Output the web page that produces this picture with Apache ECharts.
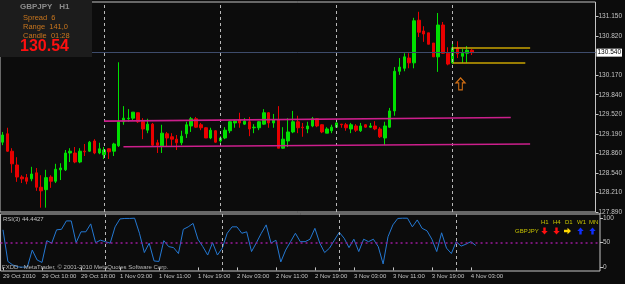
<!DOCTYPE html>
<html>
<head>
<meta charset="utf-8">
<script src="https://cdn.jsdelivr.net/npm/echarts@6/dist/echarts.min.js"></script>
<style>
  html, body { margin: 0; padding: 0; background: #0c0c0c; }
  #chart { width: 625px; height: 284px; }
</style>
</head>
<body>
<div id="chart"></div>
<script>
'use strict';

// GBPJPY H1 bars, 29 Oct 2010 02:00 .. 4 Nov 2010 04:00
var opens = [129.05,129.19,128.90,128.67,128.47,128.46,128.44,128.54,128.30,128.26,
  128.47,128.40,128.59,128.59,128.87,128.87,128.72,128.90,128.90,129.07,
  128.87,128.84,128.94,128.90,128.99,129.39,129.44,129.45,129.54,129.39,
  129.25,129.35,129.04,128.99,129.19,129.14,129.10,129.04,129.19,129.32,
  129.44,129.34,129.29,129.12,129.24,129.07,129.12,129.24,129.37,129.42,
  129.35,129.39,129.29,129.29,129.35,129.54,129.37,129.42,128.95,129.07,
  129.22,129.39,129.30,129.27,129.32,129.44,129.34,129.20,129.24,129.30,
  129.35,129.34,129.27,129.32,129.24,129.34,129.30,129.32,129.27,129.12,
  129.30,129.57,130.23,130.28,130.45,130.37,131.08,130.90,130.87,130.70,
  130.47,131.00,130.53,130.37,130.62,130.48,130.53,130.58];
var closes = [129.17,128.90,128.69,128.47,128.44,128.40,128.52,128.30,128.24,128.46,
  128.40,128.60,128.62,128.87,128.90,128.72,128.90,128.89,129.05,128.87,
  128.94,128.92,128.89,129.02,129.39,129.45,129.45,129.55,129.39,129.27,
  129.35,129.00,129.00,129.20,129.12,129.10,129.04,129.15,129.34,129.44,
  129.30,129.29,129.12,129.25,129.05,129.12,129.25,129.39,129.40,129.37,
  129.40,129.27,129.30,129.39,129.54,129.37,129.42,128.95,129.10,129.22,
  129.39,129.29,129.29,129.32,129.44,129.32,129.22,129.27,129.30,129.37,
  129.34,129.29,129.34,129.25,129.32,129.30,129.32,129.27,129.14,129.32,
  129.57,130.23,130.30,130.47,130.37,131.07,130.88,130.85,130.68,130.47,
  131.00,130.53,130.35,130.62,130.52,130.53,130.58,130.54];
var lows = [129.00,128.89,128.54,128.39,128.37,128.35,128.40,128.24,127.96,127.96,
  128.29,128.37,128.42,128.57,128.72,128.70,128.70,128.82,128.89,128.85,
  128.85,128.77,128.77,128.82,128.97,129.34,129.39,129.42,129.37,129.10,
  129.20,128.99,128.87,128.87,128.97,128.99,128.92,129.00,129.12,129.22,
  129.29,129.25,129.12,129.10,129.04,129.04,129.10,129.20,129.29,129.29,
  129.34,129.15,129.20,129.25,129.34,129.29,129.29,128.95,128.94,128.97,
  129.20,129.20,129.14,129.20,129.30,129.30,129.20,129.20,129.20,129.29,
  129.29,129.24,129.20,129.22,129.22,129.29,129.29,129.25,129.12,129.00,
  129.29,129.49,130.17,130.23,130.28,130.28,130.80,130.72,130.68,130.47,
  130.22,130.52,130.33,130.35,130.45,130.37,130.37,130.50];
var highs = [129.22,129.29,128.95,128.80,128.50,128.52,128.64,128.62,128.50,128.59,
  128.50,128.69,128.70,128.92,128.95,128.97,128.95,129.02,129.07,129.10,
  129.04,128.97,128.95,129.04,130.38,129.65,129.60,129.55,129.54,129.45,
  129.44,129.37,129.09,129.34,129.22,129.20,129.17,129.24,129.39,129.47,
  129.47,129.37,129.30,129.29,129.25,129.15,129.30,129.40,129.42,129.54,
  129.45,129.47,129.35,129.40,129.60,129.55,129.52,129.65,129.30,129.45,
  129.57,129.49,129.37,129.39,129.47,129.45,129.35,129.30,129.34,129.39,
  129.35,129.37,129.37,129.35,129.37,129.35,129.37,129.40,129.30,129.39,
  129.62,130.30,130.45,130.53,130.53,131.12,131.22,130.98,130.87,130.70,
  131.20,131.05,130.63,130.72,130.73,130.60,130.65,130.60];
var rsi = [76,12,5,1,0.5,1,35,15,10,54,
  49,76,77,94,94,50,72,72,88,50,
  55,52,49,82,98,99,99,99.5,69,30,
  49,13,12,54,42,40,28,77,82,89,
  57,42,25,50,25,39,69,82,82,69,
  72,32,50,69,86,49,55,11,35,52,
  69,52,52,57,79,49,30,39,55,71,
  59,40,57,32,57,52,57,42,7,62,
  86,99,99.5,99.5,82,96,79,74,57,32,
  70,39,28,52,43,47,52,44.44];

var timeTicks = ['29 Oct 2010', '29 Oct 10:00', '29 Oct 18:00', '1 Nov 03:00', '1 Nov 11:00',
  '1 Nov 19:00', '2 Nov 03:00', '2 Nov 11:00', '2 Nov 19:00', '3 Nov 03:00',
  '3 Nov 11:00', '3 Nov 19:00', '4 Nov 03:00'];
var priceTicks = [127.89, 128.21, 128.54, 128.86, 129.19, 129.52, 129.84, 130.17, 130.82, 131.15];
var rsiTicks = [0, 50, 100];
var daySeparators = [21, 45, 69, 93];
var lastPrice = 130.54;
var upperTrend = [[21, 129.40], [105, 129.46]];
var lowerTrend = [[25, 128.975], [109, 129.02]];
var goldHigh = [[93, 130.62], [109, 130.62]];
var goldLow = [[93, 130.37], [108, 130.37]];
var signalArrow = [94, 130.02];

var slots = 123;
var cats = [];
for (var i = 0; i < slots; i++) cats.push(String(i));

var candles = opens.map(function (o, i) {
  return [o, closes[i], lows[i], highs[i]];
});

var FONT = 'Liberation Sans';
var axisGrey = '#c4c4c4';

function sepLines() {
  return daySeparators.map(function (i) {
    return { xAxis: i };
  });
}

function segment(pts, color, width) {
  return [
    { coord: pts[0], lineStyle: { color: color, width: width, type: 'solid' } },
    { coord: pts[1] }
  ];
}

function tickShown(idx) {
  return idx % 8 === 0 && idx / 8 < timeTicks.length;
}

// small legend arrows (MTF trend panel)
function arrow(cx, cy, dir, color) {
  var p;
  if (dir === 'down') {
    p = [[cx - 1.2, cy - 3.5], [cx + 1.2, cy - 3.5], [cx + 1.2, cy], [cx + 3.2, cy], [cx, cy + 3.5], [cx - 3.2, cy], [cx - 1.2, cy]];
  } else if (dir === 'up') {
    p = [[cx - 1.2, cy + 3.5], [cx + 1.2, cy + 3.5], [cx + 1.2, cy], [cx + 3.2, cy], [cx, cy - 3.5], [cx - 3.2, cy], [cx - 1.2, cy]];
  } else {
    p = [[cx - 3.5, cy - 1.2], [cx, cy - 1.2], [cx, cy - 3.2], [cx + 3.5, cy], [cx, cy + 3.2], [cx, cy + 1.2], [cx - 3.5, cy + 1.2]];
  }
  return { type: 'polygon', shape: { points: p }, style: { fill: color }, z: 20 };
}

function txt(x, y, s, color, size, weight) {
  return {
    type: 'text', x: x, y: y, z: 20,
    style: {
      text: s, fill: color, font: (weight || 'normal') + ' ' + size + 'px "' + FONT + '"',
      textVerticalAlign: 'middle'
    }
  };
}

var option = {
  backgroundColor: '#0c0c0c',
  animation: false,
  grid: [
    { left: 0, top: 2, width: 600, height: 210, show: true, borderColor: axisGrey, borderWidth: 1, backgroundColor: 'transparent' },
    { left: 0, top: 214, width: 600, height: 57, show: true, borderColor: axisGrey, borderWidth: 1, backgroundColor: 'transparent' }
  ],
  xAxis: [
    {
      type: 'category', gridIndex: 0, data: cats, boundaryGap: true,
      axisLine: { show: false }, axisTick: { show: false }, axisLabel: { show: false }, splitLine: { show: false }
    },
    {
      type: 'category', gridIndex: 1, data: cats, boundaryGap: true,
      axisLine: { show: false },
      axisTick: { show: true, interval: function (idx) { return tickShown(idx); }, alignWithLabel: true, length: 3, lineStyle: { color: axisGrey } },
      axisLabel: {
        show: true, interval: function (idx) { return tickShown(idx); },
        formatter: function (v, idx) { return timeTicks[idx / 8]; },
        align: 'left', margin: 2, color: axisGrey, fontSize: 6, fontFamily: FONT
      },
      splitLine: { show: false }
    }
  ],
  yAxis: [
    {
      type: 'value', gridIndex: 0, position: 'right', min: 127.888, max: 131.383, scale: true,
      axisLine: { show: false },
      axisTick: { show: true, length: 3, customValues: priceTicks, lineStyle: { color: axisGrey } },
      axisLabel: {
        show: true, customValues: priceTicks, margin: 3, color: axisGrey, fontSize: 6.5, fontFamily: FONT,
        formatter: function (v) { return v.toFixed(3); }
      },
      splitLine: { show: false }
    },
    {
      type: 'value', gridIndex: 1, position: 'right', min: -7.3, max: 108,
      axisLine: { show: false },
      axisTick: { show: true, length: 3, customValues: rsiTicks, lineStyle: { color: axisGrey } },
      axisLabel: {
        show: true, customValues: rsiTicks, margin: 3, color: axisGrey, fontSize: 6.5, fontFamily: FONT,
        formatter: function (v) { return String(v); }
      },
      splitLine: { show: false }
    }
  ],
  series: [
    {
      type: 'candlestick', xAxisIndex: 0, yAxisIndex: 0, data: candles, barWidth: 3,
      itemStyle: { color: '#00e000', color0: '#e80000', borderColor: '#00e000', borderColor0: '#e80000', borderWidth: 1 },
      markLine: {
        silent: true, symbol: ['none', 'none'], animation: false,
        label: { show: false },
        data: sepLines().map(function (d) {
          d.lineStyle = { color: '#b8b8b8', type: [3, 3], width: 1 };
          return d;
        }).concat([
          {
            yAxis: lastPrice,
            lineStyle: { color: '#3e4c6c', type: 'solid', width: 1 },
            label: {
              show: true, position: 'end', distance: 1, formatter: lastPrice.toFixed(3),
              color: '#000', backgroundColor: '#ffffff', padding: [1, 1, 0, 1], fontSize: 6.5, fontFamily: FONT
            }
          },
          segment(upperTrend, '#cc1f8c', 1.6),
          segment(lowerTrend, '#cc1f8c', 1.6),
          segment(goldHigh, '#c9a300', 1.6),
          segment(goldLow, '#c9a300', 1.6)
        ])
      },
      markPoint: {
        silent: true, animation: false,
        label: { show: false },
        data: [{
          coord: signalArrow,
          symbol: 'path://M5,0L10,5L7,5L7,12L3,12L3,5L0,5Z',
          symbolSize: [9, 12], symbolOffset: [3, 0],
          itemStyle: { color: 'rgba(0,0,0,0)', borderColor: '#d06e14', borderWidth: 1.2 }
        }]
      }
    },
    {
      type: 'line', xAxisIndex: 1, yAxisIndex: 1, data: rsi, showSymbol: false,
      lineStyle: { color: '#2478d2', width: 1 },
      markLine: {
        silent: true, symbol: ['none', 'none'], animation: false,
        label: { show: false },
        data: sepLines().map(function (d) {
          d.lineStyle = { color: '#b8b8b8', type: [3, 3], width: 1 };
          return d;
        }).concat([
          { yAxis: 50, lineStyle: { color: '#9a1a9a', type: [2, 3], width: 1.5 } }
        ])
      }
    }
  ],
  graphic: [
    { type: 'rect', shape: { x: 0, y: 0, width: 92, height: 57 }, style: { fill: '#1c1c1c' }, z: 15 },
    txt(20, 7, 'GBPJPY   H1', '#8c8c8c', 8, 'bold'),
    txt(23, 18, 'Spread  6', '#c8761e', 7.5),
    txt(23, 27, 'Range  141,0', '#c8761e', 7.5),
    txt(23, 36, 'Candle  01:28', '#c8761e', 7.5),
    txt(20, 47, '130.54', '#ff1010', 16, 'bold'),
    txt(3, 219.5, 'RSI(3) 44.4427', '#c4c4c4', 6),
    txt(2, 267.5, 'FXDD - MetaTrader, \u00a9 2001-2010 MetaQuotes Software Corp.', '#b8b8b8', 6),
    txt(541, 222, 'H1', '#c8c400', 6),
    txt(553, 222, 'H4', '#c8c400', 6),
    txt(565, 222, 'D1', '#c8c400', 6),
    txt(577, 222, 'W1', '#c8c400', 6),
    txt(589, 222, 'MN', '#c8c400', 6),
    txt(515, 231, 'GBPJPY', '#c8c400', 6),
    arrow(544.5, 231, 'down', '#ff1010'),
    arrow(556.5, 231, 'down', '#ff1010'),
    arrow(567.5, 231, 'right', '#ffd800'),
    arrow(580.5, 231, 'up', '#1030ff'),
    arrow(592.5, 231, 'up', '#1030ff')
  ]
};

var myChart = echarts.init(document.getElementById('chart'), null, { renderer: 'canvas' });
myChart.setOption(option);
</script>
</body>
</html>
